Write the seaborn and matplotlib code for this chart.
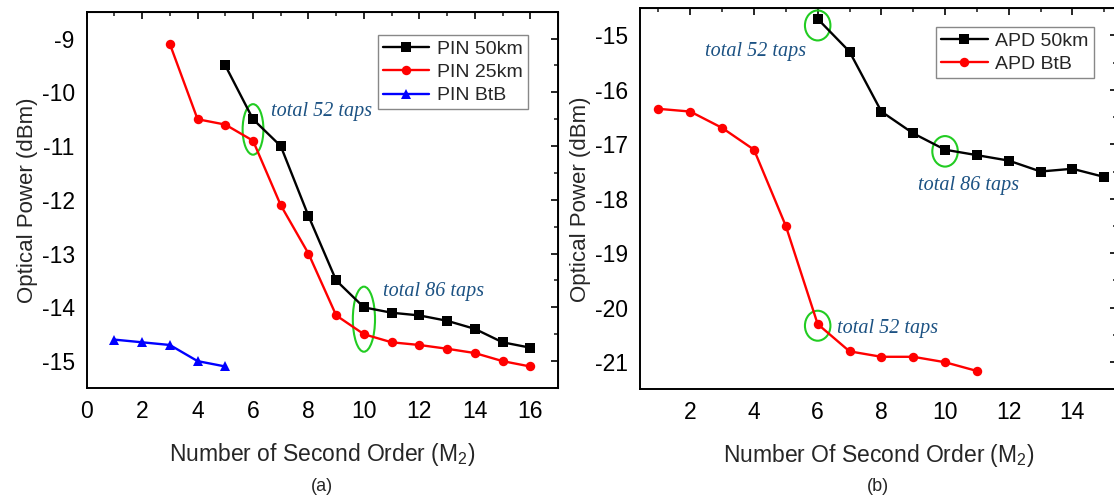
import matplotlib
matplotlib.use("Agg")
import matplotlib.pyplot as plt
from matplotlib.patches import Ellipse
from matplotlib.ticker import MultipleLocator
import seaborn as sns
import pandas as pd

# panel (a): PIN receiver
pin50_x = [5, 6, 7, 8, 9, 10, 11, 12, 13, 14, 15, 16]
pin50_y = [-9.5, -10.5, -11.0, -12.3, -13.5, -14.0, -14.1, -14.15, -14.25, -14.4, -14.65, -14.75]
pin25_x = [3, 4, 5, 6, 7, 8, 9, 10, 11, 12, 13, 14, 15, 16]
pin25_y = [-9.1, -10.5, -10.6, -10.9, -12.1, -13.0, -14.15, -14.5, -14.65, -14.7, -14.77, -14.85, -15.0, -15.1]
pinbtb_x = [1, 2, 3, 4, 5]
pinbtb_y = [-14.6, -14.65, -14.7, -15.0, -15.1]

# panel (b): APD receiver
apd50_x = [6, 7, 8, 9, 10, 11, 12, 13, 14, 15]
apd50_y = [-14.7, -15.3, -16.4, -16.8, -17.1, -17.2, -17.3, -17.5, -17.45, -17.6]
apdbtb_x = [1, 2, 3, 4, 5, 6, 7, 8, 9, 10, 11]
apdbtb_y = [-16.35, -16.4, -16.7, -17.1, -18.5, -20.3, -20.8, -20.9, -20.9, -21.0, -21.16]

sns.set_style("white")
plt.rcParams['font.family'] = ['Liberation Sans', 'DejaVu Sans']
plt.rcParams['mathtext.default'] = 'regular'
plt.rcParams['axes.unicode_minus'] = False

note_color = "#1c5283"
green = "#22cc22"


def long_df(parts):
    rows = []
    for name, xs, ys in parts:
        for x, y in zip(xs, ys):
            rows.append({'M2': x, 'Power': y, 'Series': name})
    return pd.DataFrame(rows)


df_a = long_df([('PIN 50km', pin50_x, pin50_y),
                ('PIN 25km', pin25_x, pin25_y),
                ('PIN BtB', pinbtb_x, pinbtb_y)])
df_b = long_df([('APD 50km', apd50_x, apd50_y),
                ('APD BtB', apdbtb_x, apdbtb_y)])

fig = plt.figure(figsize=(11.14, 4.98), dpi=100)
ax1 = fig.add_axes([0.0778, 0.2209, 0.4231, 0.7556])
ax2 = fig.add_axes([0.5745, 0.2179, 0.4282, 0.766])

sns.lineplot(data=df_a, x='M2', y='Power', hue='Series', style='Series',
             palette={'PIN 50km': 'black', 'PIN 25km': 'red', 'PIN BtB': 'blue'},
             markers={'PIN 50km': 's', 'PIN 25km': 'o', 'PIN BtB': '^'},
             dashes=False, errorbar=None, lw=1.7, markersize=6.8,
             markeredgewidth=0, ax=ax1)
sns.lineplot(data=df_b, x='M2', y='Power', hue='Series', style='Series',
             palette={'APD 50km': 'black', 'APD BtB': 'red'},
             markers={'APD 50km': 's', 'APD BtB': 'o'},
             dashes=False, errorbar=None, lw=1.7, markersize=6.8,
             markeredgewidth=0, ax=ax2)

ax1.set_xlim(0, 17)
ax1.set_ylim(-15.5, -8.5)
ax1.xaxis.set_major_locator(MultipleLocator(2))
ax1.xaxis.set_minor_locator(MultipleLocator(1))
ax1.yaxis.set_major_locator(MultipleLocator(1))
ax1.yaxis.set_minor_locator(MultipleLocator(0.5))

ax2.set_xlim(0.42, 15.4)
ax2.set_ylim(-21.5, -14.5)
ax2.xaxis.set_major_locator(MultipleLocator(2))
ax2.xaxis.set_minor_locator(MultipleLocator(1))
ax2.yaxis.set_major_locator(MultipleLocator(1))
ax2.yaxis.set_minor_locator(MultipleLocator(0.5))

for ax, xl in [(ax1, 'Number of Second Order (M$_2$)'),
               (ax2, 'Number Of Second Order (M$_2$)')]:
    ax.set_xlabel(xl, fontsize=16.5, labelpad=13)
    ax.set_ylabel('Optical Power (dBm)', fontsize=16, labelpad=3)
    for s in ax.spines.values():
        s.set_linewidth(1.4)
        s.set_color('black')
    ax.tick_params(which='major', direction='out', length=5, width=1.4,
                   labelsize=16.5, colors='black')
    ax.tick_params(which='minor', direction='out', length=3, width=1.2)
    # mirrored ticks on top / right, pointing inwards
    top = ax.secondary_xaxis('top')
    top.xaxis.set_major_locator(MultipleLocator(2))
    top.xaxis.set_minor_locator(MultipleLocator(1))
    top.tick_params(which='major', direction='in', length=5, width=1.4, labeltop=False)
    top.tick_params(which='minor', direction='in', length=3, width=1.2)
    right = ax.secondary_yaxis('right')
    right.yaxis.set_major_locator(MultipleLocator(1))
    right.yaxis.set_minor_locator(MultipleLocator(0.5))
    right.tick_params(which='major', direction='in', length=5, width=1.4, labelright=False)
    right.tick_params(which='minor', direction='in', length=3, width=1.2)

leg_kw = dict(loc='upper right', fontsize=14, frameon=True, fancybox=False,
              edgecolor='#888888', framealpha=1, handlelength=2.4,
              handletextpad=0.4, borderpad=0.25, labelspacing=0.3, borderaxespad=0)
h, l = ax1.get_legend_handles_labels()
ax1.legend(h, l, bbox_to_anchor=(0.936, 0.938), **leg_kw)
h, l = ax2.get_legend_handles_labels()
ax2.legend(h, l, bbox_to_anchor=(0.951, 0.95), **leg_kw)

note_kw = dict(fontsize=14.5, style='italic', color=note_color,
               family=['Liberation Serif', 'DejaVu Serif'], va='center', ha='left')

ax1.add_patch(Ellipse((6, -10.69), 0.75, 0.94, fill=False, ec=green, lw=1.5))
ax1.add_patch(Ellipse((10, -14.22), 0.8, 1.21, fill=False, ec=green, lw=1.5))
ax1.text(6.65, -10.36, 'total 52 taps', **note_kw)
ax1.text(10.67, -13.70, 'total 86 taps', **note_kw)

ax2.add_patch(Ellipse((6, -14.82), 0.8, 0.55, fill=False, ec=green, lw=1.5, clip_on=False))
ax2.add_patch(Ellipse((10, -17.13), 0.8, 0.56, fill=False, ec=green, lw=1.5))
ax2.add_patch(Ellipse((6, -20.33), 0.8, 0.55, fill=False, ec=green, lw=1.5))
ax2.text(2.47, -15.29, 'total 52 taps', **note_kw)
ax2.text(9.16, -17.75, 'total 86 taps', **note_kw)
ax2.text(6.61, -20.38, 'total 52 taps', **note_kw)

fig.text(0.2892, 1 - 486 / 498, '(a)', fontsize=13, ha='center', va='center')
fig.text(0.7880, 1 - 486 / 498, '(b)', fontsize=13, ha='center', va='center')

fig.savefig('out.png', dpi=100)
